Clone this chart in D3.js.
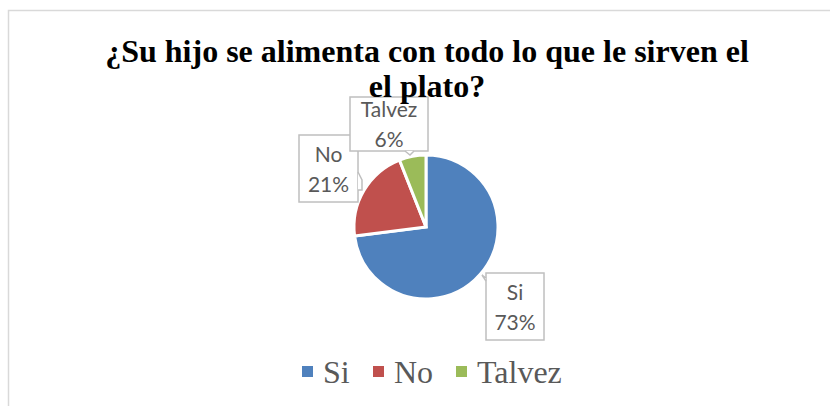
<!DOCTYPE html>
<html><head><meta charset="utf-8">
<script src="https://cdn.jsdelivr.net/npm/d3@7"></script>
<style>body{margin:0;background:#fff}svg{display:block}</style>
</head><body>
<svg id="c" width="830" height="406"></svg>
<script>
const categories = ["Si", "No", "Talvez"];
const values = [73, 21, 6];
const colors = ["#4F81BD", "#C0504D", "#9BBB59"];
const titleLines = ["¿Su hijo se alimenta con todo lo que le sirven el", "el plato?"];

const svg = d3.select("#c");
// chart border
svg.append("rect").attr("x", 8.5).attr("y", 10.5).attr("width", 900).attr("height", 500)
  .attr("fill", "#fff").attr("stroke", "#d9d9d9").attr("stroke-width", 1.5);

// title
const title = svg.append("text").attr("text-anchor", "middle")
  .attr("font-family", "'Liberation Serif','Times New Roman',serif").attr("font-weight", "bold")
  .attr("font-size", 32).attr("fill", "#000");
titleLines.forEach((t, i) => title.append("tspan").attr("x", 427).attr("y", 62 + i * 35).text(t));

const cx = 426, cy = 227, r = 72;
const pie = d3.pie().sort(null).value(d => d)(values);
const arc = d3.arc().innerRadius(0).outerRadius(r);
const g = svg.append("g").attr("transform", `translate(${cx},${cy})`);
g.selectAll("path").data(pie).join("path")
  .attr("d", arc).attr("fill", (d, i) => colors[i])
  .attr("stroke", "#fff").attr("stroke-width", 3).attr("stroke-linejoin", "miter");

// callout labels (layout: box position + tail)
const boxes = [
  {x: 486, y: 273, w: 58, h: 67, tail: "M486,281 L482,275 L486,278"},
  {x: 299, y: 135, w: 59, h: 67, tail: "M358,172 L362,180 L362,190 L358,190"},
  {x: 350, y: 97, w: 78, h: 54, tail: "M405,151 L410,155 L414,151"}
];
const lab = svg.append("g");
const total = d3.sum(values);
pie.forEach((d, i) => {
  const b = boxes[i];
  lab.append("rect").attr("x", b.x).attr("y", b.y).attr("width", b.w).attr("height", b.h)
    .attr("fill", "#fff").attr("stroke", "#bfbfbf").attr("stroke-width", 1.5);
  lab.append("path").attr("d", b.tail).attr("fill", "#fff").attr("stroke", "#bfbfbf").attr("stroke-width", 1.5);
  const t = lab.append("text").attr("text-anchor", "middle")
    .attr("font-family", "Lato, 'Open Sans', sans-serif").attr("font-size", 21).attr("fill", "#595959");
  t.append("tspan").attr("x", b.x + b.w / 2).attr("y", b.y + b.h / 2 - 7).text(categories[i]);
  t.append("tspan").attr("x", b.x + b.w / 2).attr("y", b.y + b.h / 2 + 23).text(Math.round(d.data / total * 100) + "%");
});
// title on top of the Talvez box
title.raise();

// legend
const legX = [302, 373, 456];
const leg = svg.append("g");
categories.forEach((c, i) => {
  leg.append("rect").attr("x", legX[i]).attr("y", 366).attr("width", 11).attr("height", 11).attr("fill", colors[i]);
  leg.append("text").attr("x", legX[i] + 21).attr("y", 383)
    .attr("font-family", "'Liberation Serif','Times New Roman',serif").attr("font-size", 32)
    .attr("fill", "#595959").text(c);
});
</script>
</body></html>
